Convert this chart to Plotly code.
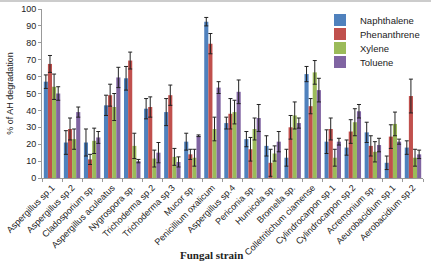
import plotly.graph_objects as go

strains = ["Aspergillus sp.1", "Aspergillus sp.2", "Cladosporium sp.", "Aspergillus aculeatus",
           "Nygrospora sp.", "Trichoderma sp.2", "Trichoderma sp.3", "Mucor sp.",
           "Penicillium oxalicum", "Aspergillus sp.4", "Periconia sp.", "Humicola sp.",
           "Bromella sp.", "Colletritichum ciamense", "Cylindrocarpon sp.1", "Cylindrocarpon sp.2",
           "Acremonium sp.", "Aeurobacidium sp.1", "Aerobacidium sp.2"]

naphthalene = [57, 21, 21, 43, 59, 41, 39, 21.5, 92.5, 32.5, 23, 19, 12, 61.5, 21.5, 18, 27, 9, 18]
naphthalene_err = [4, 7, 8, 6, 7, 6, 8, 5, 2.5, 3.5, 4.5, 6, 5, 4.5, 7, 4.5, 6, 4, 4]
phenanthrene = [67.5, 29, 11, 49, 69.5, 42, 49, 14, 79.5, 38, 17, 9, 30, 42.5, 29, 27.5, 19, 24.5, 48.5]
phenanthrene_err = [5, 6.5, 3, 6.5, 5, 6, 6, 3, 6, 9, 7, 8, 7, 4.5, 6.5, 7, 6, 7, 10]
xylene = [54, 23, 22, 42, 19, 11.5, 12.5, 12, 29, 39, 29, 14.5, 37, 62.5, 12, 33, 15.5, 32, 12]
xylene_err = [7.5, 6, 7.5, 8, 7.5, 5, 5, 5, 7, 7, 6.5, 4.5, 8, 7, 5, 8, 6, 7, 5]
toluene = [50, 39, 24, 59.5, 10, 15, 9.5, 25, 53.5, 51, 35.5, 21.5, 32.5, 52, 21.5, 39.5, 19.5, 21.5, 14]
toluene_err = [4, 3, 3.5, 6, 1, 6, 3, 0.5, 3.5, 7, 8, 6, 3, 7, 2, 4, 4, 1.5, 2.5]

series = [
    ("Naphthalene", naphthalene, naphthalene_err, "#4F81BD"),
    ("Phenanthrene", phenanthrene, phenanthrene_err, "#C0504D"),
    ("Xylene", xylene, xylene_err, "#9BBB59"),
    ("Toluene", toluene, toluene_err, "#8064A2"),
]

W, H = 431, 264
L, R, T, B = 42, 8, 9, 86
PW, PH = W - L - R, H - T - B

fig = go.Figure()
legend_names = ["legend", "legend2", "legend3", "legend4"]
for i, (name, vals, errs, col) in enumerate(series):
    fig.add_trace(go.Bar(
        name=name, x=strains, y=vals, marker=dict(color=col, line=dict(width=0)),
        error_y=dict(type="data", array=errs, visible=True, color="#222222",
                     thickness=1, width=2),
        legend=legend_names[i],
    ))

legend_layout = {}
for i, ln in enumerate(legend_names):
    ypx = 20 + 14 * i
    legend_layout[ln] = dict(x=(320 - L) / PW, y=1 - (ypx - T) / PH, xanchor="left", yanchor="middle",
                             bgcolor="rgba(0,0,0,0)", font=dict(size=9.5, color="#222"),
                             itemwidth=30, tracegroupgap=0)

fig.update_layout(
    width=W, height=H,
    margin=dict(l=L, r=R, t=T, b=B, autoexpand=False),
    paper_bgcolor="white", plot_bgcolor="white",
    barmode="group", bargap=0.18, bargroupgap=0,
    font=dict(family="Liberation Sans, Arial, sans-serif", size=9, color="#222"),
    showlegend=True,
    xaxis=dict(type="category", tickangle=-45, tickson="boundaries", ticks="outside",
               ticklen=3, tickcolor="#999", showline=True, linecolor="#999", linewidth=1,
               tickfont=dict(size=9), automargin=False, showgrid=False),
    yaxis=dict(range=[0, 100], dtick=10, ticks="outside", ticklen=3, tickcolor="#999",
               showline=True, linecolor="#999", linewidth=1, showgrid=False, zeroline=False,
               tickfont=dict(size=9), automargin=False,
               title=dict(text="% of AH degradation", font=dict(size=9), standoff=6)),
    **legend_layout,
)
fig.add_annotation(text="<b>Fungal strain</b>", xref="paper", yref="paper",
                   x=(211 - L) / PW, y=-(255 - (H - B)) / PH, showarrow=False,
                   font=dict(family="Liberation Serif, Times New Roman, serif", size=11, color="#222"),
                   xanchor="center", yanchor="middle")
fig.add_shape(type="line", xref="paper", yref="paper", x0=-1, x1=2,
              y0=1 + (T - 1) / PH, y1=1 + (T - 1) / PH,
              line=dict(color="#cccccc", width=2))
fig.write_html("out.html", config={"displayModeBar": False},
               post_script="document.body.style.margin='0';document.body.style.padding='0';"
                           "document.documentElement.style.overflow='hidden';")
